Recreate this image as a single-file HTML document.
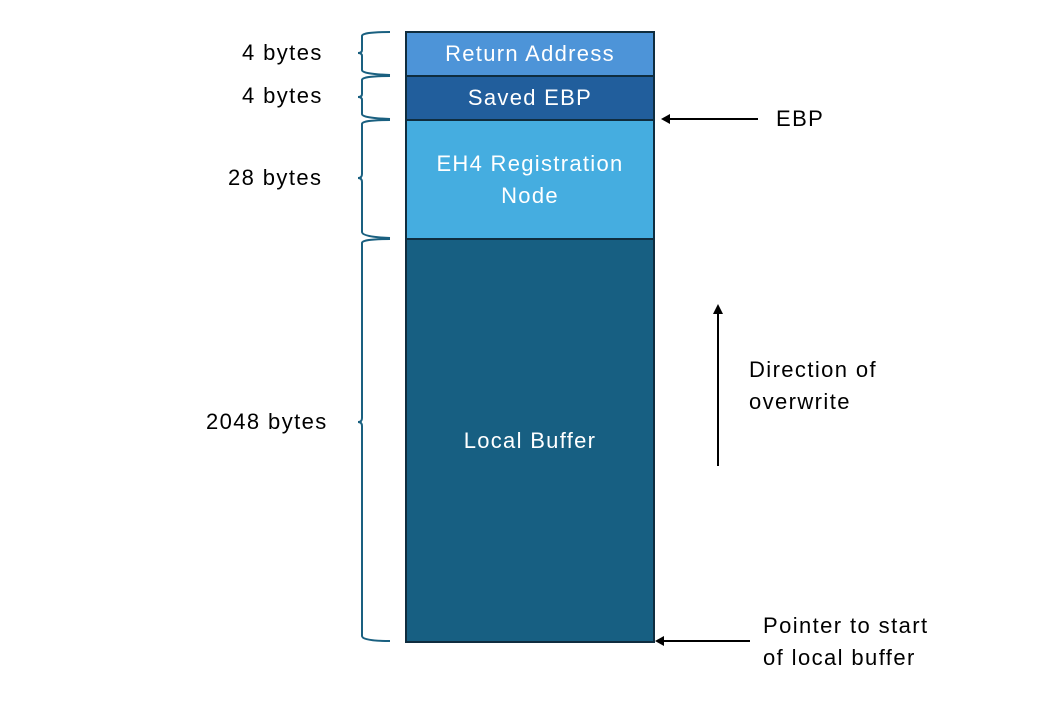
<!DOCTYPE html>
<html><head><style>
body{margin:0;background:#fff;width:1045px;height:705px;overflow:hidden;position:relative;font-family:"Liberation Sans",sans-serif}
.b{position:absolute;left:405px;width:250px;box-sizing:border-box;border:2px solid #0f2d3f;color:#fff;font-size:22px;letter-spacing:1.3px;display:flex;align-items:center;justify-content:center;text-align:center;line-height:32px}
.t{position:absolute;font-size:22px;letter-spacing:1.4px;color:#000;line-height:32px;white-space:nowrap}
</style></head><body>
<div class="b" style="top:31px;height:46px;background:#4d94d8">Return Address</div>
<div class="b" style="top:75px;height:46px;background:#215e9c">Saved EBP</div>
<div class="b" style="top:119px;height:121px;background:#45ade0">EH4 Registration<br>Node</div>
<div class="b" style="top:238px;height:405px;background:#175f82">Local Buffer</div>
<svg width="1045" height="705" style="position:absolute;left:0;top:0" fill="none">
<g stroke="#1a6080" stroke-width="2">
<path d="M390 32 Q362 32 362 36 L362 50 Q362 53 358 53 Q362 53 362 56 L362 70 Q362 74 390 75"/>
<path d="M390 76 Q362 76 362 80 L362 94 Q362 97 358 97 Q362 97 362 100 L362 114 Q362 118 390 119"/>
<path d="M390 120 Q362 120 362 124 L362 174 Q362 178 358 178 Q362 178 362 182 L362 232 Q362 237 390 238"/>
<path d="M390 239 Q362 239 362 243 L362 418 Q362 422 358 422 Q362 422 362 426 L362 636 Q362 641 390 641"/>
</g>
<g stroke="#000" stroke-width="2">
<line x1="758" y1="119" x2="668" y2="119"/>
<line x1="718" y1="466" x2="718" y2="312"/>
<line x1="750" y1="641" x2="662" y2="641"/>
</g>
<g fill="#000">
<polygon points="661,119 670,114 670,124"/>
<polygon points="718,304 713,314 723,314"/>
<polygon points="655,641 664,636 664,646"/>
</g>
</svg>
<div class="t" style="left:242px;top:37px">4 bytes</div>
<div class="t" style="left:242px;top:80px">4 bytes</div>
<div class="t" style="left:228px;top:162px">28 bytes</div>
<div class="t" style="left:206px;top:406px">2048 bytes</div>
<div class="t" style="left:776px;top:103px">EBP</div>
<div class="t" style="left:749px;top:354px">Direction of<br>overwrite</div>
<div class="t" style="left:763px;top:610px">Pointer to start<br>of local buffer</div>
</body></html>
